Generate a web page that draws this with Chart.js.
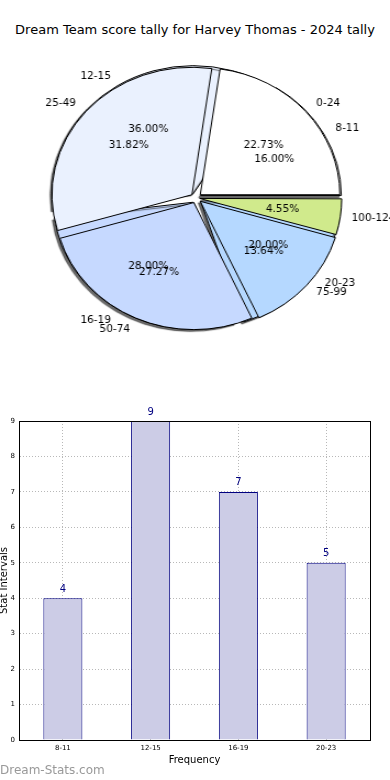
<!DOCTYPE html>
<html>
<head>
<meta charset="utf-8">
<script src="https://cdn.jsdelivr.net/npm/chart.js@4.4.0/dist/chart.umd.min.js"></script>
<style>
body{margin:0;background:#fff;width:390px;height:780px;position:relative;overflow:hidden;font-family:"DejaVu Sans",sans-serif}
#title{position:absolute;top:22px;left:0;width:390px;text-align:center;font-size:13px;color:#000;white-space:nowrap}
.pie{position:absolute;left:0;top:0;width:355px;height:390px;transform:scaleX(1.0986);transform-origin:0 0}
#barBox{position:absolute;left:0;top:395px;width:390px;height:385px}
#mark{position:absolute;left:0;top:763px;font-size:12px;color:#999}
</style>
</head>
<body>
<div id="title">Dream Team score tally for Harvey Thomas - 2024 tally</div>
<div class="pie"><canvas id="pieUnder"></canvas></div>
<div class="pie"><canvas id="pieOver"></canvas></div>
<div id="barBox"><canvas id="bars"></canvas></div>
<div id="mark">Dream-Stats.com</div>
<script>
// score tally (outer pie, drawn on top)
let scoreRanges = ["0-24", "25-49", "50-74", "75-99", "100-124"];
let scoreCounts = [5, 7, 6, 3, 1];

// stat intervals (pie underneath + bar chart)
let statRanges = ["8-11", "12-15", "16-19", "20-23"];
let statCounts = [4, 9, 7, 5];

let yAxisMax = 9;

const sliceColors = ["#ffffff", "#eaf1fe", "#c6d9ff", "#b5d8ff", "#d0ea8c"];
const stretch = 1.0986; // pie is a bit wider than tall
// chart.js moves an arc by offset / 4 (and grows thin slices a bit, so the last one gets less)
const explode = [20, 20, 20, 20, 13];

// matplotlib goes counter clockwise from 3 o'clock, chart.js clockwise -> reverse
function rev(arr){ return arr.slice().reverse(); }

const pieShadow = {
  id: 'pieShadow',
  beforeDatasetsDraw(chart){
    const ctx = chart.ctx;
    ctx.save();
    ctx.shadowColor = 'rgba(40,40,40,0.7)';
    ctx.shadowOffsetX = -2;
    ctx.shadowOffsetY = 2;
    ctx.shadowBlur = 1;
  },
  afterDatasetsDraw(chart){
    chart.ctx.restore();
  }
};

function drawPieText(ctx, chart, counts){
  const meta = chart.getDatasetMeta(0);
  const ds = chart.data.datasets[0];
  const total = counts.reduce((a, b) => a + b, 0);
  meta.data.forEach((arc, i) => {
    const p = arc.getProps(['x', 'y', 'startAngle', 'endAngle', 'outerRadius']);
    const mid = (p.startAngle + p.endAngle) / 2;
    const c = Math.cos(mid), s = Math.sin(mid);
    const cx = p.x + c * ds.offset[i] / 4, cy = p.y + s * ds.offset[i] / 4;
    const pct = (ds.data[i] / total * 100).toFixed(2) + '%';
    ctx.save();
    ctx.translate(cx + c * p.outerRadius * 0.6, cy + s * p.outerRadius * 0.6);
    ctx.scale(1 / stretch, 1);
    ctx.textAlign = 'center';
    ctx.fillText(pct, 0, 0);
    ctx.restore();
    ctx.save();
    ctx.translate(cx + c * p.outerRadius * 1.1, cy + s * p.outerRadius * 1.1);
    ctx.scale(1 / stretch, 1);
    ctx.textAlign = c > 0 ? 'left' : 'right';
    ctx.fillText(chart.data.labels[i], 0, 0);
    ctx.restore();
  });
}

let underChart;
const pieLabels = {
  id: 'pieLabels',
  afterDraw(chart){
    const ctx = chart.ctx;
    ctx.save();
    ctx.font = '10.5px "DejaVu Sans"';
    ctx.fillStyle = '#000';
    ctx.textBaseline = 'middle';
    drawPieText(ctx, underChart, statCounts);
    drawPieText(ctx, chart, scoreCounts);
    ctx.restore();
  }
};

function pieConfig(labels, counts, colors, offsets, extra){
  return {
    type: 'pie',
    data: {
      labels: rev(labels),
      datasets: [{
        data: rev(counts),
        backgroundColor: rev(colors),
        borderColor: '#000',
        borderWidth: 1,
        offset: rev(offsets),
        radius: 127
      }]
    },
    options: {
      responsive: true,
      maintainAspectRatio: false,
      animation: false,
      rotation: 90,
      layout: {padding: {left: 40, right: 38, top: 40, bottom: 34}},
      plugins: {legend: {display: false}, tooltip: {enabled: false}}
    },
    plugins: extra
  };
}

underChart = new Chart(document.getElementById('pieUnder'),
  pieConfig(statRanges, statCounts, sliceColors.slice(0, 4), explode.slice(0, 4), [pieShadow]));
new Chart(document.getElementById('pieOver'),
  pieConfig(scoreRanges, scoreCounts, sliceColors, explode, [pieLabels]));

const frame = {
  id: 'frame',
  afterDraw(chart){
    const a = chart.chartArea, ctx = chart.ctx;
    ctx.save();
    ctx.strokeStyle = '#000';
    ctx.lineWidth = 1;
    ctx.strokeRect(Math.round(a.left) + 0.5, Math.round(a.top) + 0.5, Math.round(a.right - a.left), Math.round(a.bottom - a.top));
    ctx.restore();
  }
};

const valueLabels = {
  id: 'valueLabels',
  afterDatasetsDraw(chart){
    const ctx = chart.ctx;
    const meta = chart.getDatasetMeta(0);
    ctx.save();
    ctx.font = '10px "DejaVu Sans"';
    ctx.fillStyle = '#000080';
    ctx.textAlign = 'center';
    ctx.textBaseline = 'middle';
    meta.data.forEach((bar, i) => {
      ctx.fillText(chart.data.datasets[0].data[i], bar.x, bar.y - 9);
    });
    ctx.restore();
  }
};

new Chart(document.getElementById('bars'), {
  type: 'bar',
  data: {
    labels: statRanges,
    datasets: [{
      data: statCounts,
      backgroundColor: '#cccce6',
      borderColor: '#000080',
      borderWidth: 1,
      barPercentage: 0.445,
      categoryPercentage: 1
    }]
  },
  options: {
    responsive: true,
    maintainAspectRatio: false,
    animation: false,
    layout: {padding: {top: 26, right: 20, left: 0, bottom: 14}},
    plugins: {legend: {display: false}, tooltip: {enabled: false}},
    scales: {
      x: {
        grid: {offset: false, color: '#b8b8b8', drawTicks: false},
        border: {color: '#000', dash: [1, 2]},
        ticks: {font: {size: 7, family: 'DejaVu Sans'}, color: '#000', padding: 4},
        title: {display: true, text: 'Frequency', font: {size: 10, family: 'DejaVu Sans'}, color: '#000', padding: 0},
        afterFit(scale){ scale.height = 26; }
      },
      y: {
        min: 0,
        max: yAxisMax,
        ticks: {stepSize: 1, font: {size: 7, family: 'DejaVu Sans'}, color: '#000', padding: 4},
        grid: {color: '#b8b8b8', drawTicks: false},
        border: {color: '#000', dash: [1, 2]},
        title: {display: true, text: 'Stat Intervals', font: {size: 10, family: 'DejaVu Sans'}, color: '#000', padding: {top: -2}},
        afterFit(scale){ scale.width = 19; }
      }
    }
  },
  plugins: [valueLabels, frame]
});
</script>
</body>
</html>
